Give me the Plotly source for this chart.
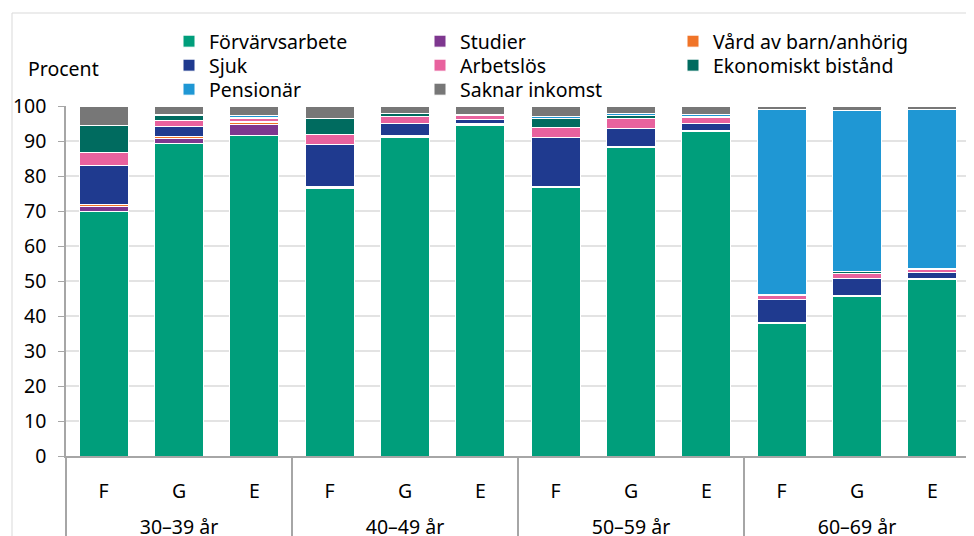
import plotly.graph_objects as go

# age groups and sub categories (F, G, E)
groups = ["30–39 år"] * 3 + ["40–49 år"] * 3 + ["50–59 år"] * 3 + ["60–69 år"] * 3
subs = ["F", "G", "E"] * 4

forvarvsarbete = [70.0, 89.3, 91.6, 76.4, 91.0, 94.3, 76.8, 88.2, 92.7, 38.0, 45.6, 50.4]
studier = [1.2, 1.4, 3.2, 0.3, 0.3, 0.4, 0.2, 0.2, 0.1, 0.1, 0.1, 0.1]
vard = [0.6, 0.5, 0.4, 0.3, 0.3, 0.4, 0.1, 0.1, 0.1, 0.1, 0.1, 0.1]
sjuk = [11.1, 2.9, 0.5, 12.0, 3.3, 1.1, 14.0, 5.2, 2.0, 6.6, 5.0, 1.7]
arbetslos = [3.9, 1.9, 0.7, 3.0, 2.0, 1.0, 2.7, 2.6, 1.8, 1.0, 1.4, 1.1]
ekonomiskt = [7.5, 1.3, 0.4, 4.3, 0.9, 0.3, 2.5, 0.9, 0.2, 0.3, 0.4, 0.3]
pensionar = [0.1, 0.3, 0.4, 0.1, 0.2, 0.2, 0.7, 0.6, 0.8, 53.0, 46.2, 45.2]
saknar = [5.6, 2.4, 2.8, 3.6, 2.0, 2.2, 3.0, 2.2, 2.3, 0.9, 1.2, 1.1]

names = ["Förvärvsarbete", "Studier", "Vård av barn/anhörig", "Sjuk", "Arbetslös",
         "Ekonomiskt bistånd", "Pensionär", "Saknar inkomst"]
values = [forvarvsarbete, studier, vard, sjuk, arbetslos, ekonomiskt, pensionar, saknar]
colors = ["#009E7B", "#7E378F", "#F07428", "#1F3A8F", "#E8629E", "#006B5F", "#1F97D4", "#777777"]

FONT = "Noto Sans"
FS = 19.5

# page body has an 8px margin, so the figure is drawn 8px in from the window edge
OFF = 8
# plot area in window pixels
L, R, T, B = 66, 970, 106, 456
W, H = R - L, B - T


def px(x):
    return (x - L) / W


def py(y):
    return (B - y) / H


# one legend per entry so the 3x3 grid can be placed like the original
col_x = [169, 420, 673]
row_y = [41, 65, 89]

# a small empty second line under F/G/E pushes the age group row further down
sub_labels = [s + "<br><span style='font-size:16px'>&nbsp;</span>" for s in subs]

fig = go.Figure()
layout_legends = {}
for i, (name, vals, col) in enumerate(zip(names, values, colors)):
    key = "legend" if i == 0 else f"legend{i + 1}"
    fig.add_trace(go.Bar(
        x=[groups, sub_labels], y=vals, name=name, legend=key,
        marker=dict(color=col, line=dict(color="white", width=1)),
    ))
    layout_legends[key] = dict(
        orientation="v", x=px(col_x[i % 3]), y=py(row_y[i // 3] - 19),
        xanchor="left", yanchor="top", font=dict(size=FS),
        bgcolor="rgba(0,0,0,0)",
    )

fig.update_layout(
    width=974 - OFF, height=536 - OFF,
    margin=dict(l=L - OFF, r=974 - R, t=T - OFF, b=536 - B, autoexpand=False),
    barmode="stack", bargap=0.35,
    plot_bgcolor="white", paper_bgcolor="white",
    font=dict(family=FONT, size=FS, color="black"),
    xaxis=dict(
        type="multicategory", showline=True, linecolor="#a6a6a6", linewidth=1.5,
        showdividers=True, dividercolor="#a6a6a6", dividerwidth=1.5,
        ticks="", ticklabelstandoff=17,
        tickfont=dict(size=FS), automargin=False,
    ),
    yaxis=dict(
        range=[0, 100], dtick=10, showgrid=True, gridcolor="#e3e3e3", gridwidth=2,
        showline=True, linecolor="#a6a6a6", linewidth=1.5,
        ticks="outside", ticklen=6, tickcolor="#a6a6a6", ticklabelstandoff=8,
        tickfont=dict(size=FS), zeroline=False, automargin=False,
    ),
    showlegend=True,
    **layout_legends,
)

fig.add_annotation(
    text="Procent", xref="paper", yref="paper", x=px(26), y=py(68),
    xanchor="left", yanchor="middle", showarrow=False, font=dict(size=FS),
)

# outer chart frame
fig.add_shape(
    type="rect", xref="paper", yref="paper",
    x0=px(12), x1=px(990), y0=py(560), y1=py(13),
    line=dict(color="#d9d9d9", width=1), layer="below",
)

fig.write_html("out.html")
